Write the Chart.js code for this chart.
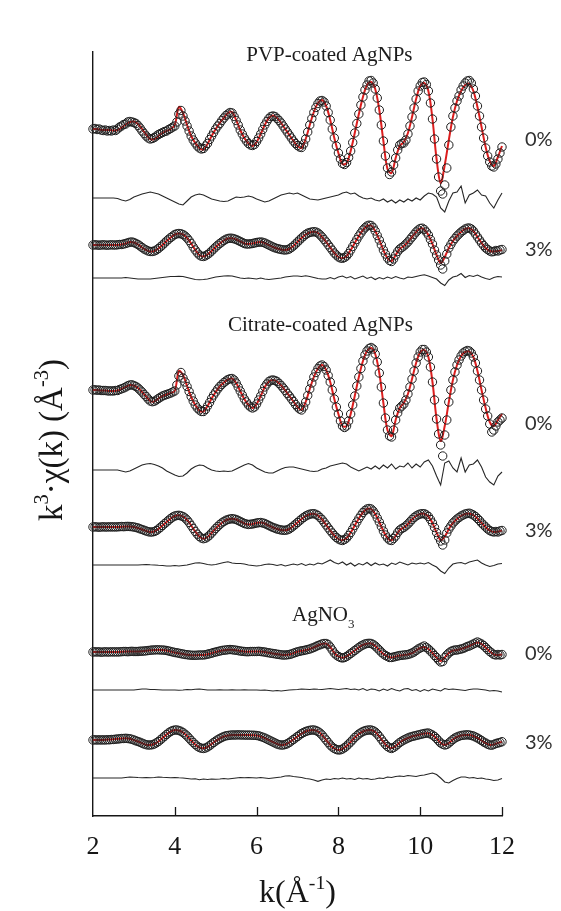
<!DOCTYPE html>
<html>
<head>
<meta charset="utf-8">
<script src="https://cdn.jsdelivr.net/npm/chart.js@4.4.1/dist/chart.umd.min.js"></script>
<style>
  html, body { margin: 0; padding: 0; background: #fff; }
  #wrap { width: 561px; height: 911px; }
</style>
</head>
<body>
<div id="wrap"><canvas id="exafs" width="561" height="911"></canvas></div>
<script>
// k grid of the measured spectra (Å^-1)
const kData = [
2,2.05,2.1,2.15,2.2,2.25,2.3,2.35,2.4,2.45,2.5,2.55,2.6,2.65,2.7,2.75,2.8,2.85,2.9,2.95,
3,3.05,3.1,3.15,3.2,3.25,3.3,3.35,3.4,3.45,3.5,3.55,3.6,3.65,3.7,3.75,3.8,3.85,3.9,3.95,
4,4.05,4.1,4.15,4.2,4.25,4.3,4.35,4.4,4.45,4.5,4.55,4.6,4.65,4.7,4.75,4.8,4.85,4.9,4.95,
5,5.05,5.1,5.15,5.2,5.25,5.3,5.35,5.4,5.45,5.5,5.55,5.6,5.65,5.7,5.75,5.8,5.85,5.9,5.95,
6,6.05,6.1,6.15,6.2,6.25,6.3,6.35,6.4,6.45,6.5,6.55,6.6,6.65,6.7,6.75,6.8,6.85,6.9,6.95,
7,7.05,7.1,7.15,7.2,7.25,7.3,7.35,7.4,7.45,7.5,7.55,7.6,7.65,7.7,7.75,7.8,7.85,7.9,7.95,
8,8.05,8.1,8.15,8.2,8.25,8.3,8.35,8.4,8.45,8.5,8.55,8.6,8.65,8.7,8.75,8.8,8.85,8.9,8.95,
9,9.05,9.1,9.15,9.2,9.25,9.3,9.35,9.4,9.45,9.5,9.55,9.6,9.65,9.7,9.75,9.8,9.85,9.9,9.95,
10,10.05,10.1,10.15,10.2,10.25,10.3,10.35,10.4,10.45,10.5,10.55,10.6,10.65,10.7,10.75,10.8,10.85,10.9,10.95,
11,11.05,11.1,11.15,11.2,11.25,11.3,11.35,11.4,11.45,11.5,11.55,11.6,11.65,11.7,11.75,11.8,11.85,11.9,11.95,
12];

// k grid of the fitted curves and residuals
const kFit = [
2,2.1,2.2,2.3,2.4,2.5,2.6,2.7,2.8,2.9,
3,3.1,3.2,3.3,3.4,3.5,3.6,3.7,3.8,3.9,
4,4.1,4.2,4.3,4.4,4.5,4.6,4.7,4.8,4.9,
5,5.1,5.2,5.3,5.4,5.5,5.6,5.7,5.8,5.9,
6,6.1,6.2,6.3,6.4,6.5,6.6,6.7,6.8,6.9,
7,7.1,7.2,7.3,7.4,7.5,7.6,7.7,7.8,7.9,
8,8.1,8.2,8.3,8.4,8.5,8.6,8.7,8.8,8.9,
9,9.1,9.2,9.3,9.4,9.5,9.6,9.7,9.8,9.9,
10,10.1,10.2,10.3,10.4,10.5,10.6,10.7,10.8,10.9,
11,11.1,11.2,11.3,11.4,11.5,11.6,11.7,11.8,11.9,
12];

const kTicks = [2, 4, 6, 8, 10, 12];

// ---- PVP-coated AgNPs, 0 % ----
const pvp0Data = [
0.0,0.05,-0.05,0.0,-0.1,-0.15,-0.1,-0.2,-0.15,-0.2,-0.1,-0.15,0.0,0.2,0.3,0.45,0.5,0.7,0.75,0.7,
0.65,0.55,0.35,0.1,-0.2,-0.45,-0.7,-0.9,-1.0,-0.95,-0.85,-0.7,-0.55,-0.45,-0.35,-0.25,-0.2,-0.05,0.05,0.2,
0.3,0.7,1.5,1.85,1.3,0.8,0.3,-0.2,-0.7,-1.1,-1.4,-1.7,-1.9,-2.0,-1.95,-1.7,-1.45,-1.05,-0.7,-0.35,
0.0,0.3,0.55,0.85,1.1,1.35,1.5,1.65,1.6,1.25,0.85,0.4,-0.1,-0.5,-0.9,-1.2,-1.45,-1.6,-1.65,-1.55,
-1.25,-0.9,-0.5,-0.05,0.4,0.75,1.05,1.25,1.3,1.25,1.05,0.85,0.6,0.3,0.0,-0.3,-0.6,-0.9,-1.2,-1.45,
-1.65,-1.8,-1.85,-1.5,-1.0,-0.3,0.4,1.05,1.65,2.15,2.55,2.8,2.85,2.7,2.3,1.65,0.9,0.0,-0.9,-1.7,
-2.4,-3.0,-3.45,-3.55,-3.35,-2.85,-2.2,-1.35,-0.4,0.55,1.5,2.4,3.2,3.9,4.4,4.8,4.85,4.6,4.0,3.1,
1.9,0.4,-1.2,-2.7,-3.9,-4.55,-4.3,-3.6,-2.9,-2.1,-1.6,-1.45,-1.4,-1.1,-0.5,0.3,1.2,2.1,3.0,3.8,
4.3,4.65,4.7,4.45,3.8,2.6,1.0,-1.0,-3.0,-4.8,-6.2,-6.5,-5.6,-3.9,-1.6,0.2,1.3,2.1,2.8,3.3,
3.9,4.3,4.6,4.8,4.85,4.6,4.0,3.3,2.3,1.3,0.2,-0.9,-1.9,-2.7,-3.3,-3.7,-3.8,-3.5,-3.0,-2.4,
-1.8];
const pvp0Fit = [
0.0,0.0,-0.1,-0.1,-0.1,-0.15,-0.1,0.15,0.45,0.7,
0.75,0.5,0.0,-0.55,-1.0,-1.0,-0.7,-0.4,-0.2,0.0,
0.4,2.2,1.6,0.4,-0.7,-1.4,-1.9,-2.05,-1.5,-0.7,
0.0,0.6,1.1,1.6,1.7,0.9,-0.1,-0.9,-1.45,-1.7,
-1.3,-0.5,0.4,1.1,1.35,1.1,0.6,0.0,-0.6,-1.2,
-1.7,-1.9,-1.0,0.4,1.7,2.6,2.9,2.3,0.9,-0.9,
-2.4,-3.5,-3.4,-2.2,-0.4,1.5,3.2,4.4,4.7,4.0,
1.9,-1.2,-4.0,-4.4,-2.9,-1.7,-1.3,-0.4,1.2,3.0,
4.3,4.6,3.8,1.0,-3.0,-5.4,-3.6,-1.1,1.2,2.8,
3.8,4.4,4.5,3.8,2.2,0.2,-1.8,-3.2,-3.7,-2.8,
-1.7];
const pvp0Resid = [
0,0,0,0,0,0,-0.05,-0.2,-0.3,-0.15,
0.1,0.25,0.4,0.5,0.6,0.5,0.4,0.2,0,-0.2,
-0.4,-0.6,-0.7,-0.3,0.1,0.3,0.4,0.3,0.1,-0.1,
-0.2,-0.3,-0.35,-0.3,-0.1,0.1,0.05,0.1,0.2,0.1,
-0.1,-0.25,-0.4,-0.3,-0.1,0.1,0.3,0.4,0.5,0.4,
0.5,0.3,0.1,-0.1,-0.15,-0.2,-0.1,0,0.1,0.2,
0.3,0.5,0.6,0.4,0.5,0.2,0,-0.1,0,-0.2,
-0.3,-0.1,-0.4,-0.2,-0.5,-0.2,-0.4,-0.1,-0.3,0,
-0.2,0.2,0.5,0.4,0.1,-1.0,-1.4,-0.3,0.5,0.6,
1.2,-0.5,0.3,0.5,0.8,0.3,0.2,-0.5,-1.0,-0.2,
0.5];

// ---- PVP-coated AgNPs, 3 % ----
const pvp3Data = [
0,0.02,0,-0.02,0,0.02,0,-0.02,0,0.02,0,0,0.02,0.05,0.05,0.1,0.15,0.22,0.28,0.3,
0.25,0.15,0.05,-0.1,-0.25,-0.4,-0.5,-0.6,-0.65,-0.65,-0.6,-0.5,-0.35,-0.18,0,0.2,0.4,0.58,0.75,0.9,
1.05,1.12,1.15,1.12,1.05,0.9,0.7,0.45,0.15,-0.2,-0.5,-0.78,-1.0,-1.12,-1.15,-1.08,-0.95,-0.8,-0.6,-0.4,
-0.2,-0.02,0.15,0.3,0.45,0.57,0.65,0.68,0.67,0.62,0.55,0.45,0.35,0.25,0.15,0.1,0.1,0.12,0.15,0.2,
0.25,0.28,0.3,0.27,0.2,0.1,0,-0.1,-0.2,-0.28,-0.35,-0.4,-0.45,-0.48,-0.5,-0.47,-0.4,-0.25,-0.1,0.1,
0.3,0.5,0.7,0.88,1.05,1.18,1.25,1.3,1.33,1.3,1.2,1.02,0.8,0.55,0.3,0.02,-0.25,-0.52,-0.8,-1.0,
-1.2,-1.3,-1.33,-1.25,-1.1,-0.85,-0.5,-0.15,0.2,0.55,0.9,1.2,1.5,1.72,1.9,1.98,1.95,1.75,1.4,0.95,
0.5,0.0,-0.5,-0.9,-1.3,-1.55,-1.65,-1.4,-1.0,-0.65,-0.4,-0.25,-0.1,0.1,0.3,0.55,0.8,1.05,1.3,1.5,
1.65,1.68,1.55,1.3,1.0,0.55,0.1,-0.5,-1.0,-1.5,-2.0,-2.4,-1.6,-0.9,-0.3,0.05,0.4,0.65,0.9,1.1,
1.3,1.45,1.6,1.68,1.7,1.6,1.4,1.1,0.8,0.5,0.2,-0.05,-0.3,-0.45,-0.6,-0.68,-0.65,-0.55,-0.6,-0.5,
-0.45];
const pvp3Fit = [
0,0,0,0,0,0,0,0.05,0.15,0.3,
0.25,0.05,-0.25,-0.5,-0.65,-0.6,-0.35,0,0.4,0.75,
1.05,1.15,1.05,0.7,0.15,-0.5,-1.0,-1.15,-0.95,-0.6,
-0.2,0.15,0.45,0.65,0.67,0.55,0.35,0.15,0.1,0.15,
0.25,0.3,0.2,0,-0.2,-0.35,-0.45,-0.5,-0.4,-0.1,
0.3,0.7,1.05,1.25,1.33,1.2,0.8,0.3,-0.25,-0.8,
-1.2,-1.33,-1.1,-0.5,0.2,0.9,1.5,1.9,1.95,1.4,
0.5,-0.5,-1.3,-1.6,-1.0,-0.4,-0.1,0.3,0.8,1.3,
1.65,1.55,1.0,0.1,-1.0,-1.8,-1.2,-0.3,0.4,0.9,
1.3,1.6,1.67,1.4,0.8,0.2,-0.3,-0.6,-0.65,-0.6,
-0.5];
const pvp3Resid = [
0,0,0,0,0,0,0,0,0.05,0,
-0.05,-0.1,-0.1,-0.1,-0.1,-0.05,0,0.05,0.1,0.15,
0.15,0.17,0.15,0.05,-0.05,-0.15,-0.17,-0.15,-0.1,0,
0.1,0.15,0.2,0.23,0.2,0.1,0,-0.05,0,-0.05,
-0.1,0,-0.1,-0.15,-0.1,-0.05,0,0.1,0.15,0.2,
0.2,0.15,0.23,0.15,0.05,-0.05,-0.1,-0.1,0.05,-0.1,
0.1,0.2,0,0.15,-0.1,0.05,0.2,-0.05,0.1,-0.15,
0.05,-0.1,0.1,-0.05,0.15,0,-0.1,0.1,0.05,0.15,
0.25,0.33,0.2,0.05,-0.1,-0.5,-0.75,-0.2,0.1,0.2,
0.45,0.05,0.25,0.15,0.3,0.1,-0.05,-0.15,0.05,0.15,
0.1];

// ---- Citrate-coated AgNPs, 0 % ----
const cit0Data = [
0,0.02,-0.02,0,-0.05,-0.05,-0.05,-0.08,-0.1,-0.08,-0.1,-0.05,-0.05,0.05,0.12,0.2,0.3,0.42,0.5,0.52,
0.45,0.35,0.2,0.0,-0.2,-0.45,-0.65,-0.9,-1.1,-1.17,-1.12,-1.0,-0.85,-0.72,-0.6,-0.52,-0.45,-0.38,-0.3,-0.2,
-0.1,0.5,1.4,1.75,1.2,0.8,0.35,-0.15,-0.65,-1.1,-1.5,-1.8,-2.0,-2.15,-2.15,-1.95,-1.6,-1.25,-0.85,-0.5,
-0.2,0.1,0.35,0.55,0.75,0.9,1.05,1.12,1.15,1.0,0.7,0.3,-0.1,-0.5,-0.9,-1.2,-1.5,-1.7,-1.8,-1.7,
-1.4,-1.0,-0.6,-0.15,0.3,0.6,0.85,0.97,1.0,0.95,0.85,0.65,0.45,0.2,-0.05,-0.35,-0.6,-0.88,-1.15,-1.45,
-1.7,-1.9,-2.0,-1.7,-1.2,-0.55,0.1,0.7,1.3,1.75,2.15,2.4,2.5,2.35,2.0,1.45,0.8,0.0,-0.9,-1.7,
-2.4,-3.1,-3.6,-3.75,-3.6,-3.1,-2.4,-1.5,-0.6,0.4,1.3,2.15,2.9,3.5,3.9,4.15,4.25,4.1,3.6,2.8,
1.7,0.3,-1.3,-2.8,-4.0,-4.6,-4.7,-4.0,-3.0,-2.3,-1.8,-1.6,-1.4,-1.0,-0.4,0.3,1.1,1.9,2.7,3.3,
3.8,4.05,4.05,3.8,3.3,2.3,0.8,-1.0,-2.9,-4.4,-5.5,-6.6,-4.5,-3.0,-1.2,0.0,1.0,1.8,2.5,3.0,
3.4,3.7,3.85,3.95,3.9,3.7,3.3,2.7,1.9,1.0,0.0,-1.0,-1.9,-2.6,-3.4,-4.2,-4.0,-3.6,-3.2,-3.0,
-2.8];
const cit0Fit = [
0,0,-0.05,-0.05,-0.1,-0.1,-0.05,0.1,0.3,0.5,
0.45,0.2,-0.2,-0.65,-1.1,-1.15,-0.85,-0.6,-0.45,-0.3,
-0.1,1.9,1.5,0.4,-0.7,-1.5,-2.05,-2.15,-1.6,-0.85,
-0.2,0.35,0.75,1.05,1.15,0.7,-0.1,-0.9,-1.5,-1.8,
-1.4,-0.6,0.3,0.85,1.0,0.85,0.45,-0.05,-0.6,-1.15,
-1.7,-2.0,-1.2,0.1,1.3,2.15,2.5,2.0,0.8,-0.9,
-2.4,-3.6,-3.6,-2.4,-0.6,1.3,2.9,3.9,4.2,3.6,
1.7,-1.3,-4.0,-4.6,-3.0,-1.8,-1.3,-0.4,1.1,2.7,
3.8,4.0,3.3,0.8,-2.9,-5.1,-3.6,-1.2,1.0,2.5,
3.4,3.8,3.85,3.3,1.9,0.0,-1.8,-3.2,-3.6,-3.0,
-2.4];
const cit0Resid = [
0,0,0,0,0,0,0,-0.1,-0.2,-0.1,
0.1,0.3,0.5,0.6,0.65,0.55,0.4,0.2,-0.1,-0.3,
-0.5,-0.65,-0.6,-0.3,0.1,0.35,0.5,0.45,0.2,0.0,
-0.1,-0.15,-0.1,-0.15,-0.1,0.1,0.3,0.5,0.65,0.5,
0.2,0,-0.2,-0.3,-0.3,-0.1,0.1,0.25,0.3,0.3,
0.2,0.1,0,-0.1,-0.15,-0.1,0.1,0.2,0.4,0.5,
0.6,0.7,0.6,0.3,0.1,-0.1,0.1,0.3,0.1,0.4,
0.1,0.5,0.2,0.6,0.1,0.4,0.3,0.7,0.2,0.6,
0.3,0.8,1.0,0.4,-0.6,-1.5,0.7,0.9,0.2,-0.2,
1.2,-0.2,0.5,0.6,1.0,0.3,-0.7,-1.2,-1.5,-0.6,
-0.2];

// ---- Citrate-coated AgNPs, 3 % ----
const cit3Data = [
0,0.02,0,-0.02,0,0.02,0,0,0.02,0,0.02,0,0.02,0.03,0.05,0.03,0.05,0.06,0.05,0.03,
0,-0.05,-0.1,-0.18,-0.25,-0.33,-0.4,-0.47,-0.5,-0.5,-0.45,-0.35,-0.2,-0.03,0.15,0.33,0.5,0.68,0.85,1.0,
1.1,1.15,1.17,1.12,1.05,0.9,0.7,0.45,0.15,-0.15,-0.45,-0.72,-0.95,-1.1,-1.17,-1.12,-1.0,-0.82,-0.6,-0.38,
-0.15,0.05,0.25,0.42,0.55,0.67,0.75,0.8,0.83,0.8,0.75,0.65,0.55,0.45,0.35,0.3,0.25,0.28,0.3,0.35,
0.4,0.43,0.45,0.4,0.35,0.25,0.15,0.05,-0.05,-0.12,-0.2,-0.25,-0.3,-0.32,-0.33,-0.28,-0.2,-0.05,0.1,0.28,
0.45,0.62,0.8,0.95,1.1,1.2,1.28,1.32,1.33,1.27,1.15,0.95,0.75,0.48,0.2,-0.08,-0.35,-0.6,-0.85,-1.05,
-1.2,-1.3,-1.35,-1.25,-1.1,-0.85,-0.55,-0.2,0.15,0.5,0.85,1.15,1.45,1.65,1.8,1.85,1.8,1.6,1.3,0.9,
0.5,0.05,-0.4,-0.8,-1.1,-1.3,-1.35,-1.15,-0.9,-0.55,-0.3,-0.15,-0.05,0.12,0.3,0.52,0.75,0.95,1.1,1.22,
1.3,1.33,1.33,1.22,1.05,0.75,0.4,-0.05,-0.55,-1.0,-1.4,-1.8,-1.3,-0.6,-0.2,0.1,0.4,0.6,0.8,0.95,
1.1,1.2,1.3,1.35,1.38,1.3,1.2,1.05,0.85,0.65,0.4,0.2,0.0,-0.2,-0.35,-0.45,-0.5,-0.45,-0.5,-0.4,
-0.35];
const cit3Fit = [
0,0,0,0,0,0,0,0.02,0.05,0.05,
0,-0.1,-0.25,-0.4,-0.5,-0.45,-0.2,0.15,0.5,0.85,
1.1,1.17,1.05,0.7,0.15,-0.45,-0.95,-1.17,-1.0,-0.6,
-0.15,0.25,0.55,0.75,0.83,0.75,0.55,0.35,0.25,0.3,
0.4,0.45,0.35,0.15,-0.05,-0.2,-0.3,-0.33,-0.2,0.1,
0.45,0.8,1.1,1.28,1.33,1.15,0.75,0.2,-0.35,-0.85,
-1.2,-1.33,-1.1,-0.55,0.15,0.85,1.45,1.8,1.8,1.3,
0.5,-0.4,-1.1,-1.33,-0.9,-0.3,-0.05,0.3,0.75,1.1,
1.3,1.33,1.05,0.4,-0.55,-1.3,-0.95,-0.2,0.4,0.8,
1.1,1.3,1.33,1.2,0.85,0.4,0.0,-0.35,-0.5,-0.45,
-0.35];
const cit3Resid = [
0,0,0,0,0,0,0,0,0,0,
0,0,0.03,0.05,0.02,0,-0.03,-0.05,-0.1,-0.1,
-0.05,-0.1,-0.05,0,0.1,0.2,0.23,0.15,0.05,0,
0.05,0.15,0.25,0.33,0.2,0.15,0.15,0.1,0,-0.05,
-0.1,-0.05,0.05,0.1,0.05,-0.05,0.05,-0.1,0,0.1,
0,0.15,-0.05,0.1,0,0.2,0.1,0.3,0.5,0.25,
0.1,0.3,0,0.2,-0.1,0.15,0,0.25,-0.05,0.2,
0,0.1,-0.1,0.2,0.05,0.3,0.15,0,0.2,0.1,
0.2,0.1,0.25,0,-0.2,-0.6,-0.85,-0.3,0.1,0.2,
0.25,0.1,0.3,0.4,0.5,0.2,0,-0.15,-0.05,0.1,
0.15];

// ---- AgNO3, 0 % ----
const ag0Data = [
0,0.02,0,0.02,-0.02,0,0.02,0,0,0.02,0,0.02,0,0.02,0.03,0.05,0.05,0.03,0.05,0.07,
0.05,0.05,0.05,0.08,0.08,0.1,0.12,0.15,0.17,0.2,0.2,0.22,0.22,0.2,0.2,0.18,0.15,0.1,0.05,0.0,
-0.05,-0.08,-0.12,-0.17,-0.2,-0.25,-0.27,-0.3,-0.32,-0.33,-0.33,-0.32,-0.3,-0.3,-0.3,-0.27,-0.22,-0.17,-0.12,-0.05,
0,0.05,0.1,0.15,0.18,0.2,0.23,0.25,0.23,0.2,0.18,0.14,0.1,0.07,0.05,0.03,0.03,0.05,0.05,0.05,
0.05,0.07,0.05,0.02,0.0,-0.05,-0.08,-0.12,-0.15,-0.18,-0.22,-0.25,-0.28,-0.3,-0.3,-0.28,-0.25,-0.2,-0.12,-0.05,
0.02,0.07,0.12,0.15,0.2,0.25,0.3,0.38,0.45,0.55,0.65,0.72,0.8,0.85,0.85,0.75,0.5,0.2,-0.1,-0.3,
-0.45,-0.55,-0.6,-0.55,-0.45,-0.3,-0.15,0.0,0.15,0.3,0.45,0.6,0.7,0.8,0.85,0.87,0.85,0.75,0.6,0.4,
0.2,-0.02,-0.2,-0.35,-0.45,-0.55,-0.55,-0.5,-0.45,-0.4,-0.35,-0.33,-0.3,-0.28,-0.25,-0.18,-0.1,0.0,0.15,0.3,
0.4,0.5,0.6,0.45,0.3,0.1,-0.1,-0.35,-0.55,-0.8,-1.0,-0.95,-0.55,-0.3,-0.1,0.05,0.15,0.2,0.2,0.25,
0.3,0.35,0.45,0.55,0.6,0.7,0.8,0.9,1.0,0.9,0.8,0.65,0.45,0.25,0.05,-0.1,-0.25,-0.3,-0.25,-0.3,
-0.25];
const ag0Fit = [
0,0,0,0,0,0,0,0.02,0.05,0.05,
0.05,0.05,0.08,0.12,0.17,0.2,0.22,0.2,0.15,0.05,
-0.05,-0.12,-0.2,-0.27,-0.32,-0.33,-0.3,-0.3,-0.22,-0.12,
0,0.1,0.18,0.23,0.23,0.18,0.1,0.05,0.03,0.05,
0.05,0.05,0,-0.08,-0.15,-0.22,-0.28,-0.3,-0.25,-0.12,
0.02,0.12,0.2,0.3,0.45,0.65,0.8,0.83,0.5,-0.1,
-0.45,-0.58,-0.45,-0.15,0.15,0.45,0.7,0.83,0.85,0.6,
0.2,-0.2,-0.45,-0.55,-0.45,-0.35,-0.3,-0.25,-0.1,0.15,
0.4,0.5,0.3,-0.1,-0.55,-0.9,-0.55,-0.1,0.15,0.2,
0.3,0.45,0.6,0.8,0.95,0.8,0.45,0.05,-0.25,-0.3,
-0.25];
const ag0Resid = [
0,0,0,0,0,0,0,0,0,0,
0,0.05,0.1,0.1,0.05,0.05,0.03,0,0,0,
0,-0.03,0,0.05,0.03,0.07,0.1,0.05,0,0,
0,0.03,0,0,0.02,0,0,0.03,0,0,
0,-0.03,0,-0.05,-0.1,-0.05,-0.1,-0.05,0,0.03,
0.05,0.1,0.08,0.05,0.1,0.07,0.05,0.1,0.15,0.1,
0.05,0.1,0.15,0.05,0.1,0,0.15,-0.05,0.1,0.05,
-0.1,0.1,-0.05,0.15,0,-0.1,0.1,0.15,-0.05,0.05,
-0.15,0.05,-0.1,0.1,0,-0.1,0.15,0.05,0.1,0.05,
0,-0.05,0.05,0.1,0.1,0.05,0,-0.1,-0.05,-0.1,
-0.2];

// ---- AgNO3, 3 % ----
const ag3Data = [
0,0.02,0,0.02,0,0.02,0,0.03,0.02,0.05,0.05,0.08,0.1,0.12,0.15,0.15,0.17,0.15,0.12,0.07,
0.0,-0.08,-0.15,-0.23,-0.32,-0.4,-0.47,-0.5,-0.5,-0.47,-0.4,-0.28,-0.15,0.02,0.2,0.38,0.55,0.72,0.85,0.95,
1.0,1.0,0.95,0.87,0.75,0.58,0.4,0.18,-0.05,-0.25,-0.45,-0.62,-0.75,-0.82,-0.85,-0.8,-0.7,-0.57,-0.4,-0.25,
-0.1,0.03,0.15,0.25,0.35,0.42,0.45,0.48,0.5,0.5,0.5,0.52,0.5,0.5,0.5,0.48,0.5,0.48,0.48,0.47,
0.45,0.42,0.35,0.28,0.2,0.1,0.0,-0.1,-0.2,-0.3,-0.4,-0.47,-0.5,-0.5,-0.45,-0.37,-0.25,-0.1,0.05,0.2,
0.35,0.5,0.65,0.75,0.85,0.92,0.97,1.0,1.0,0.95,0.85,0.7,0.5,0.25,0.0,-0.25,-0.5,-0.7,-0.85,-0.95,
-1.0,-0.98,-0.9,-0.77,-0.6,-0.4,-0.2,0.02,0.25,0.42,0.6,0.73,0.85,0.93,0.98,1.0,1.0,0.93,0.8,0.6,
0.35,0.08,-0.2,-0.45,-0.65,-0.78,-0.85,-0.75,-0.6,-0.42,-0.25,-0.12,0.0,0.1,0.2,0.28,0.35,0.4,0.45,0.5,
0.55,0.6,0.65,0.68,0.7,0.6,0.5,0.35,0.15,-0.08,-0.3,-0.42,-0.5,-0.45,-0.3,-0.12,0.05,0.2,0.3,0.38,
0.45,0.48,0.5,0.52,0.5,0.45,0.4,0.3,0.2,0.08,-0.05,-0.2,-0.3,-0.42,-0.5,-0.52,-0.45,-0.35,-0.3,-0.25,
-0.17];
const ag3Fit = [
0,0,0,0.02,0.05,0.08,0.12,0.15,0.17,0.12,
0.0,-0.15,-0.32,-0.47,-0.5,-0.4,-0.15,0.2,0.55,0.85,
1.0,0.95,0.75,0.4,-0.05,-0.45,-0.75,-0.83,-0.7,-0.4,
-0.1,0.15,0.35,0.45,0.5,0.5,0.5,0.5,0.5,0.48,
0.45,0.35,0.2,0.0,-0.2,-0.4,-0.5,-0.45,-0.25,0.05,
0.35,0.65,0.85,0.97,1.0,0.85,0.5,0.0,-0.5,-0.85,
-1.0,-0.9,-0.6,-0.2,0.25,0.6,0.85,0.98,1.0,0.8,
0.35,-0.2,-0.65,-0.83,-0.6,-0.25,0.0,0.2,0.35,0.45,
0.55,0.65,0.67,0.5,0.15,-0.3,-0.5,-0.3,0.05,0.3,
0.45,0.5,0.5,0.4,0.2,-0.05,-0.3,-0.5,-0.45,-0.3,
-0.17];
const ag3Resid = [
0,0,0,0,0,0,0,0,0.05,0.1,
0.08,0.05,0.03,0.05,0.03,0.05,0.1,0.07,0.05,0.03,
0.05,0.02,0,-0.05,-0.1,-0.08,-0.17,-0.1,-0.15,-0.1,
-0.12,-0.1,-0.05,-0.1,-0.05,0,0.05,0.02,0.05,0.03,
0,0.05,0,-0.05,0,0.05,0.1,0.2,0.23,0.15,
0.1,0.05,-0.05,-0.1,-0.2,-0.33,-0.2,-0.1,-0.15,-0.05,
-0.1,0,-0.1,-0.05,-0.15,0,-0.1,-0.05,-0.15,-0.1,
0,-0.05,0.1,0.05,0.15,0.2,0.15,0.25,0.2,0.15,
0.25,0.3,0.4,0.5,0.35,0,-0.4,-0.5,-0.25,-0.05,
0.1,0.1,0,0.05,-0.05,0,-0.1,-0.15,-0.25,-0.2,
-0.05];

// vertical stacking of the six spectra and their residual traces (axis units)
const traceOffsets = [68.7, 57.1, 42.6, 28.9, 16.4, 7.6];
const residOffsets = [61.8, 53.8, 34.6, 25.1, 12.6, 3.8];

const dataSeries  = [pvp0Data, pvp3Data, cit0Data, cit3Data, ag0Data, ag3Data];
const fitSeries   = [pvp0Fit, pvp3Fit, cit0Fit, cit3Fit, ag0Fit, ag3Fit];
const residSeries = [pvp0Resid, pvp3Resid, cit0Resid, cit3Resid, ag0Resid, ag3Resid];

// texts
const doseLabels = ['0%', '3%', '0%', '3%', '0%', '3%'];
const groupTitles = [
  [{ t: 'PVP-coated AgNPs' }],
  [{ t: 'Citrate-coated AgNPs' }],
  [{ t: 'AgNO' }, { t: '3', sub: true }]
];
const yTitle = [{ t: 'k' }, { t: '3', sup: true }, { t: '·χ(k) (Å' }, { t: '-3', sup: true }, { t: ')' }];
const xTitle = [{ t: 'k(Å' }, { t: '-1', sup: true }, { t: ')' }];

const SERIF = "'Liberation Serif','Times New Roman',serif";
const SANS = "Lato,'Open Sans','Liberation Sans',sans-serif";
const INK = '#161616';
const FIT_RED = '#dc1e1e';

function shift(ks, vals, off) {
  return ks.map((k, i) => ({ x: k, y: off + vals[i] }));
}

const datasets = [];
for (let s = 0; s < dataSeries.length; s++) {
  datasets.push({
    label: 'data ' + s,
    data: shift(kData, dataSeries[s], traceOffsets[s]),
    showLine: false,
    pointRadius: 4.2,
    pointBorderWidth: 1,
    pointBorderColor: '#1e1e1e',
    pointBackgroundColor: 'rgba(255,255,255,0)',
    order: 0,
    clip: false
  });
  datasets.push({
    label: 'fit ' + s,
    data: shift(kFit, fitSeries[s], traceOffsets[s]),
    borderColor: FIT_RED,
    borderWidth: 2,
    pointRadius: 0,
    tension: 0.35,
    order: 1,
    clip: false
  });
  datasets.push({
    label: 'residual ' + s,
    data: shift(kFit, residSeries[s], residOffsets[s]),
    borderColor: '#262626',
    borderWidth: 1.1,
    pointRadius: 0,
    tension: 0,
    order: 2,
    clip: false
  });
}

function segFont(seg, size) {
  const s = (seg.sup || seg.sub) ? size * 0.62 : size;
  return s.toFixed(2) + 'px ' + SERIF;
}
function richWidth(ctx, segs, size) {
  let w = 0;
  for (const seg of segs) { ctx.font = segFont(seg, size); w += ctx.measureText(seg.t).width; }
  return w;
}
function drawRich(ctx, segs, size, x, y) {
  let cx = x;
  for (const seg of segs) {
    ctx.font = segFont(seg, size);
    const dy = seg.sup ? -size * 0.42 : (seg.sub ? size * 0.34 : 0);
    ctx.fillText(seg.t, cx, y + dy);
    cx += ctx.measureText(seg.t).width;
  }
}

// inward tick marks, group titles, dose labels and axis titles
const annotations = {
  id: 'annotations',
  afterDraw(chart) {
    const { ctx, chartArea, scales } = chart;
    const xs = scales.x, ys = scales.y;
    ctx.save();

    ctx.strokeStyle = INK;
    ctx.lineWidth = 1.3;
    for (const t of kTicks) {
      if (t === kTicks[0]) continue;
      const px = Math.round(xs.getPixelForValue(t)) + 0.5;
      ctx.beginPath();
      ctx.moveTo(px, chartArea.bottom);
      ctx.lineTo(px, chartArea.bottom - 9);
      ctx.stroke();
    }

    ctx.fillStyle = '#1c1c1c';
    ctx.textBaseline = 'alphabetic';
    const titleAt = [[7.78, 75.5], [7.56, 48.5], [7.63, 19.5]];
    groupTitles.forEach((segs, i) => {
      const w = richWidth(ctx, segs, 21);
      const cx = xs.getPixelForValue(titleAt[i][0]);
      drawRich(ctx, segs, 21, cx - w / 2, ys.getPixelForValue(titleAt[i][1]));
    });

    ctx.fillStyle = '#303030';
    ctx.font = '20px ' + SANS;
    ctx.textBaseline = 'middle';
    ctx.textAlign = 'left';
    const doseY = [67.6, 56.6, 39.2, 28.5, 16.2, 7.3];
    doseLabels.forEach((txt, i) => {
      ctx.fillText(txt, chartArea.right + 23, ys.getPixelForValue(doseY[i]));
    });

    ctx.fillStyle = INK;
    ctx.textBaseline = 'alphabetic';
    const xw = richWidth(ctx, xTitle, 32);
    const xMid = (chartArea.left + chartArea.right) / 2;
    drawRich(ctx, xTitle, 32, xMid - xw / 2, 902);

    const yw = richWidth(ctx, yTitle, 33);
    ctx.translate(62, 440);
    ctx.rotate(-Math.PI / 2);
    drawRich(ctx, yTitle, 33, -yw / 2, 0);

    ctx.restore();
  }
};

new Chart(document.getElementById('exafs'), {
  type: 'line',
  data: { datasets },
  options: {
    responsive: false,
    animation: false,
    events: [],
    layout: { padding: { top: 52, right: 59, left: 0, bottom: 0 } },
    plugins: { legend: { display: false }, tooltip: { enabled: false } },
    scales: {
      x: {
        type: 'linear',
        min: 2,
        max: 12,
        ticks: {
          stepSize: 2,
          autoSkip: false,
          maxRotation: 0,
          color: INK,
          padding: 16,
          font: { family: SERIF, size: 26 }
        },
        grid: { display: false, drawTicks: false },
        border: { display: true, color: INK, width: 1.4 },
        afterFit(scale) { scale.height = 95; }
      },
      y: {
        min: 0,
        max: 76.4,
        ticks: { display: false },
        grid: { display: false, drawTicks: false },
        border: { display: true, color: INK, width: 1.4 },
        afterFit(scale) { scale.width = 93; }
      }
    }
  },
  plugins: [annotations]
});
</script>
</body>
</html>
